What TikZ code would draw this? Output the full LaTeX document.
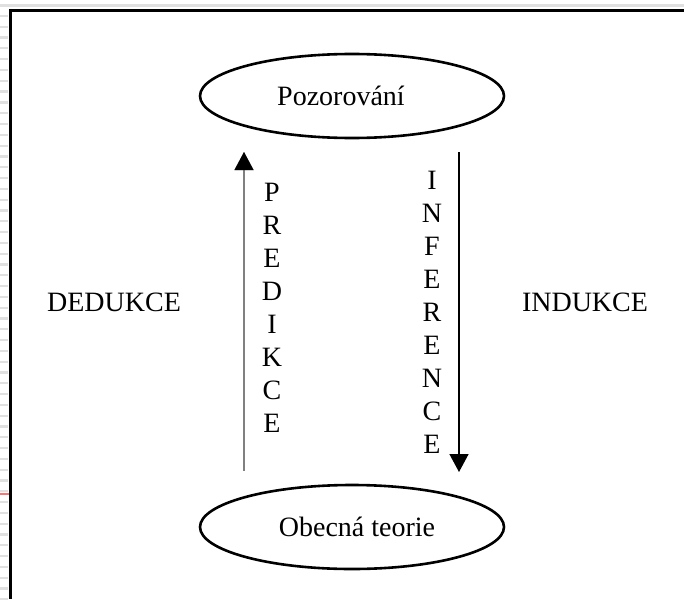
\documentclass[tikz,border=0pt]{standalone}
\usepackage{fontspec}
\setmainfont{Liberation Serif}
\usetikzlibrary{shapes.geometric,arrows.meta}
\begin{document}
\begin{tikzpicture}[x=1pt,y=-1pt,
  oval/.style={draw=black,line width=2.6pt,ellipse,minimum width=304pt,minimum height=84pt,inner sep=0pt,font=\fontsize{28}{33}\selectfont},
  lbl/.style={font=\fontsize{28}{33}\selectfont,inner sep=0pt},
  vlbl/.style={font=\fontsize{28}{33}\selectfont,inner sep=0pt,align=center},
  tip/.style={-{Triangle[width=19pt,length=18pt]}},
  frame/.style={line width=3pt,black},
  stripe/.style={line width=2.2pt,color=black!12}]
\useasboundingbox (0,0) rectangle (684,599);
% page edge decoration
\draw[stripe] (0,5.5) -- (684,5.5);
\foreach \k in {0,...,54} {\draw[stripe] (0,{16+10.8*\k}) -- (8,{16+10.8*\k});}
\draw[line width=2pt,color=red!55] (0,494) -- (9,494);
\draw[frame] (9,10.5) -- (684,10.5);
\draw[frame] (10.5,9) -- (10.5,599);
% nodes
\node[oval] (obs) at (352,96) {\hspace*{-22pt}Pozorování};
\node[oval] (theory) at (352,527) {\hspace*{10pt}Obecná teorie};
\node[lbl] (ded) at (114,302) {DEDUKCE};
\node[lbl] (ind) at (585,302) {INDUKCE};
\node[vlbl] (pred) at (272,308) {P\\R\\E\\D\\I\\K\\C\\E};
\node[vlbl] (infer) at (432,312) {I\\N\\F\\E\\R\\E\\N\\C\\E};
% arrows
\coordinate (a1s) at (244,471);
\coordinate (a1e) at (244,152);
\coordinate (a2s) at (459,152);
\coordinate (a2e) at (459,472);
\draw[tip,line width=2pt,color=black!50] (a1s) -- (a1e);
\fill[black] (a1e) -- ++(-9.5,18) -- ++(19,0) -- cycle;
\draw[tip,line width=1.5pt,black] (a2s) -- (a2e);
\end{tikzpicture}
\end{document}
